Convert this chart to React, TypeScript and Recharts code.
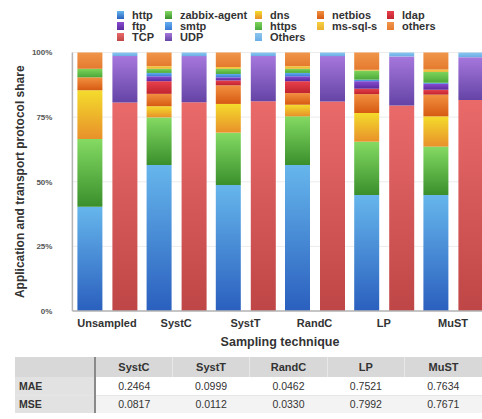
import { Bar, BarChart, CartesianGrid, Legend, XAxis, YAxis } from "recharts";

const TECHNIQUES = ["Unsampled", "SystC", "SystT", "RandC", "LP", "MuST"];

// application protocol share (%), listed bottom to top of the stack
const HTTP = [40.3, 56.5, 48.7, 56.5, 44.9, 44.9];
const ZABBIX_AGENT = [26.2, 18.4, 20.3, 18.8, 20.6, 18.7];
const DNS = [18.9, 4.3, 11.1, 4.5, 11.1, 11.7];
const NETBIOS = [5.0, 4.8, 7.2, 4.5, 7.3, 8.4];
const LDAP = [0, 4.9, 1.9, 4.6, 2.1, 1.9];
const FTP = [0, 1.9, 1.2, 1.9, 2.9, 2.3];
const SMTP = [0, 1.3, 1.3, 1.3, 0.6, 0.4];
const HTTPS = [3.3, 1.6, 2.0, 1.6, 3.5, 4.2];
const MS_SQL_S = [0, 1.0, 0.7, 1.0, 0.3, 0.9];
const OTHERS_APP = [6.3, 5.3, 5.6, 5.3, 6.7, 6.6];

// transport protocol share (%)
const TCP = [80.7, 80.8, 81.1, 81.0, 79.5, 81.6];
const UDP = [17.9, 17.8, 17.5, 17.6, 19.0, 16.6];
const OTHERS_TRANSPORT = [1.4, 1.4, 1.4, 1.4, 1.5, 1.8];

const Y_TICKS = [0, 25, 50, 75, 100];

// error of each sampling technique against the unsampled traffic
const ERROR_COLUMNS = ["SystC", "SystT", "RandC", "LP", "MuST"];
const MAE = [0.2464, 0.0999, 0.0462, 0.7521, 0.7634];
const MSE = [0.0817, 0.0112, 0.033, 0.7992, 0.7671];

const SERIES = [
  { key: "http", name: "http", values: HTTP, stack: "app", top: "#66b6ec", bottom: "#2a5fbe" },
  { key: "zabbix", name: "zabbix-agent", values: ZABBIX_AGENT, stack: "app", top: "#84da62", bottom: "#3a8f2c" },
  { key: "dns", name: "dns", values: DNS, stack: "app", top: "#f4dc2c", bottom: "#e8902a" },
  { key: "netbios", name: "netbios", values: NETBIOS, stack: "app", top: "#f29040", bottom: "#d65a12" },
  { key: "ldap", name: "ldap", values: LDAP, stack: "app", top: "#e8404c", bottom: "#c0242e" },
  { key: "ftp", name: "ftp", values: FTP, stack: "app", top: "#8a4cd0", bottom: "#5a2a9e" },
  { key: "smtp", name: "smtp", values: SMTP, stack: "app", top: "#62aef0", bottom: "#3a7ad4" },
  { key: "https", name: "https", values: HTTPS, stack: "app", top: "#7ed45a", bottom: "#4aa83a" },
  { key: "mssql", name: "ms-sql-s", values: MS_SQL_S, stack: "app", top: "#f6d040", bottom: "#eab030" },
  { key: "othersApp", name: "others", values: OTHERS_APP, stack: "app", top: "#f0964a", bottom: "#e47a2e" },
  { key: "tcp", name: "TCP", values: TCP, stack: "transport", top: "#ea6a6a", bottom: "#bf4646" },
  { key: "udp", name: "UDP", values: UDP, stack: "transport", top: "#a677dc", bottom: "#6444a6" },
  { key: "othersTransport", name: "Others", values: OTHERS_TRANSPORT, stack: "transport", top: "#8cc6ee", bottom: "#6aaee6" }
];

const data = TECHNIQUES.map((technique, i) => {
  const row: Record<string, string | number> = { technique };
  SERIES.forEach(s => {
    row[s.key] = s.values[i];
  });
  return row;
});

const FONT = "'Liberation Sans', Arial, sans-serif";
const TEXT = "#333";

function GridLegend({ payload }: any) {
  const order = SERIES.map(s => s.key);
  const items = [...(payload || [])].sort(
    (a, b) => order.indexOf(a.dataKey) - order.indexOf(b.dataKey)
  );
  return (
    <div
      style={{
        height: 52.5,
        boxSizing: "border-box",
        paddingTop: 9.5,
        paddingLeft: 117,
        display: "grid",
        gridTemplateColumns: "48px 90px 62px 70px 70px",
        gridAutoRows: "11px",
        fontFamily: FONT
      }}
    >
      {items.map(item => {
        const s = SERIES.find(x => x.key === item.dataKey)!;
        return (
          <div key={s.key} style={{ display: "flex", alignItems: "center" }}>
            <span
              style={{
                width: 7,
                height: 8,
                marginRight: 8,
                background: `linear-gradient(${s.top}, ${s.bottom})`
              }}
            />
            <span style={{ fontSize: 11, fontWeight: "bold", color: TEXT, lineHeight: "11px" }}>
              {s.name}
            </span>
          </div>
        );
      })}
    </div>
  );
}

function ErrorTable() {
  const cell = { padding: 0, textAlign: "center" as const };
  const labelCell = {
    ...cell,
    textAlign: "left" as const,
    paddingLeft: 4,
    background: "#e2e2e2",
    fontWeight: "bold",
    borderRight: "2px solid #8a8a8a"
  };
  return (
    <table
      style={{
        position: "absolute",
        top: 357,
        left: 15,
        width: 467,
        borderCollapse: "collapse",
        tableLayout: "fixed",
        fontFamily: FONT,
        fontSize: 10.5,
        color: TEXT
      }}
    >
      <colgroup>
        <col style={{ width: 80 }} />
        {ERROR_COLUMNS.map(c => (
          <col key={c} />
        ))}
      </colgroup>
      <thead>
        <tr style={{ height: 20, background: "#d8d8d8" }}>
          <th style={{ ...cell, borderRight: "2px solid #8a8a8a" }} />
          {ERROR_COLUMNS.map(c => (
            <th key={c} style={{ ...cell, fontSize: 11, borderLeft: "1px solid #e8e8e8" }}>
              {c}
            </th>
          ))}
        </tr>
      </thead>
      <tbody>
        <tr style={{ height: 18, background: "#fff", borderBottom: "1px solid #e6e6e6" }}>
          <td style={labelCell}>MAE</td>
          {MAE.map((v, i) => (
            <td key={i} style={cell}>
              {v.toFixed(4)}
            </td>
          ))}
        </tr>
        <tr style={{ height: 18, background: "#f3f3f3" }}>
          <td style={labelCell}>MSE</td>
          {MSE.map((v, i) => (
            <td key={i} style={cell}>
              {v.toFixed(4)}
            </td>
          ))}
        </tr>
      </tbody>
    </table>
  );
}

export default function App() {
  return (
    <div
      style={{
        position: "absolute",
        left: 0,
        top: 0,
        width: 482,
        height: 419,
        overflow: "hidden",
        background: "#fff",
        fontFamily: FONT
      }}
    >
      <BarChart
        width={500}
        height={350}
        data={data}
        margin={{ top: 0, right: 12.4, bottom: 3, left: 0 }}
        barCategoryGap={5}
        barGap={10}
      >
        <defs>
          {SERIES.map(s => (
            <linearGradient key={s.key} id={`grad-${s.key}`} x1="0" y1="0" x2="0" y2="1">
              <stop offset="0%" stopColor={s.top} />
              <stop offset="100%" stopColor={s.bottom} />
            </linearGradient>
          ))}
        </defs>
        <CartesianGrid vertical={false} stroke="#ececec" />
        <XAxis
          dataKey="technique"
          height={36}
          tickLine={false}
          tickSize={0}
          tickMargin={8}
          axisLine={{ stroke: "#b4b4b4", strokeWidth: 1.5 }}
          tick={{ fontSize: 11, fontWeight: "bold", fill: TEXT }}
          label={{
            value: "Sampling technique",
            position: "insideBottom",
            offset: 1,
            style: { fontSize: 12.5, fontWeight: "bold", fill: TEXT }
          }}
        />
        <YAxis
          width={72.4}
          domain={[0, 100]}
          ticks={Y_TICKS}
          tickFormatter={v => `${v}%`}
          tickLine={false}
          tickSize={0}
          tickMargin={20}
          axisLine={{ stroke: "#b4b4b4", strokeWidth: 1.5 }}
          tick={{ fontSize: 8, fontWeight: "bold", fill: "#555" }}
          label={{
            value: "Application and transport protocol share",
            angle: -90,
            position: "insideLeft",
            offset: 20,
            style: { fontSize: 12, fontWeight: "bold", fill: TEXT, textAnchor: "middle" }
          }}
        />
        <Legend verticalAlign="top" content={GridLegend} wrapperStyle={{ left: 0, width: 500 }} />
        {SERIES.map(s => (
          <Bar
            key={s.key}
            dataKey={s.key}
            name={s.name}
            stackId={s.stack}
            fill={`url(#grad-${s.key})`}
            isAnimationActive={false}
          />
        ))}
      </BarChart>
      <ErrorTable />
    </div>
  );
}
